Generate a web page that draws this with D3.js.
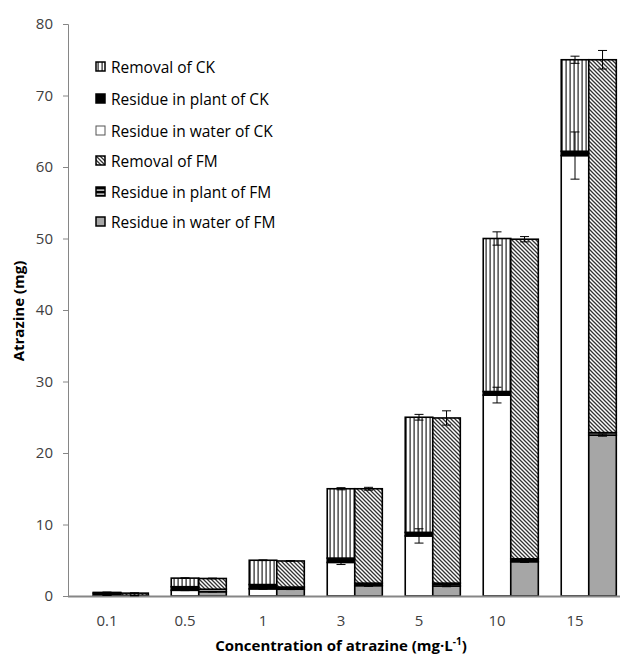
<!DOCTYPE html>
<html><head><meta charset="utf-8">
<script src="https://cdn.jsdelivr.net/npm/d3@7"></script>
<style>body{margin:0;background:#fff}svg{display:block}text{font-family:"Open Sans",Lato,sans-serif}</style>
</head><body>
<script>
const categories = ["0.1","0.5","1","3","5","10","15"];
const yTicks = [0,10,20,30,40,50,60,70,80];
// CK series (mg)
const ckWater   = [0.10, 0.80, 1.00, 4.70, 8.40, 28.10, 61.60];
const ckPlant   = [0.30, 0.50, 0.60, 0.60, 0.50, 0.50, 0.60];
const ckRemoval = [0.10, 1.20, 3.40, 9.70, 16.10, 21.40, 12.80];
const ckTotalErr = [0.05, 0.05, 0.05, 0.15, 0.40, 0.93, 0.50];
const ckWaterErr = [0.02, 0.05, 0.05, 0.30, 1.00, 1.10, 3.30];
// FM series (mg)
const fmWater   = [0.05, 0.60, 0.95, 1.45, 1.40, 4.80, 22.50];
const fmPlant   = [0.05, 0.35, 0.30, 0.35, 0.40, 0.40, 0.35];
const fmRemoval = [0.30, 1.50, 3.65, 13.20, 23.10, 44.70, 52.15];
const fmTotalErr = [0.05, 0.05, 0.05, 0.20, 1.00, 0.37, 1.30];
const fmWaterErr = [0.02, 0.03, 0.05, 0.10, 0.10, 0.10, 0.15];
const legendLabels = ["Removal of CK","Residue in plant of CK","Residue in water of CK","Removal of FM","Residue in plant of FM","Residue in water of FM"];

const W=632,H=655;
const svg=d3.select("body").append("svg").attr("width",W).attr("height",H);
const defs=svg.append("defs");
const pv=defs.append("pattern").attr("id","pv").attr("patternUnits","userSpaceOnUse").attr("width",4).attr("height",4);
pv.append("rect").attr("width",4).attr("height",4).attr("fill","#fff");
pv.append("rect").attr("x",1.5).attr("width",1.2).attr("height",4).attr("fill","#222");
const pd=defs.append("pattern").attr("id","pd").attr("patternUnits","userSpaceOnUse").attr("width",4).attr("height",4);
pd.append("rect").attr("width",4).attr("height",4).attr("fill","#fff");
pd.append("path").attr("d","M-1,-1L5,5M-1,3L1,5M3,-1L5,1").attr("stroke","#333").attr("stroke-width",1.3);
const ph=defs.append("pattern").attr("id","ph").attr("patternUnits","userSpaceOnUse").attr("width",4).attr("height",4);
ph.append("rect").attr("width",4).attr("height",4).attr("fill","#000");
ph.append("rect").attr("y",1.5).attr("width",4).attr("height",1.2).attr("fill","#fff");

const x0=68,x1=614,yTop=24,yBot=596;
const x=d3.scaleBand().domain(categories).range([x0,x1]).paddingInner(0.647).paddingOuter(0.3235);
const y=d3.scaleLinear().domain([0,80]).range([yBot,yTop]);
const bw=x.bandwidth();

const stackKeys=["water","plant","removal"];
function rows(w,p,r){return categories.map((c,i)=>({cat:c,water:w[i],plant:p[i],removal:r[i]}));}
const ckRows=rows(ckWater,ckPlant,ckRemoval), fmRows=rows(fmWater,fmPlant,fmRemoval);
const stack=d3.stack().keys(stackKeys);
const ckFill={water:"#fff",plant:"#000",removal:"url(#pv)"};
const fmFill={water:"#a6a6a6",plant:"url(#ph)",removal:"url(#pd)"};

const gy=svg.append("g").attr("transform",`translate(${x0},0)`)
  .call(d3.axisLeft(y).tickValues(yTicks).tickSize(5).tickPadding(10));
gy.select(".domain").attr("stroke","#868686");
gy.selectAll(".tick line").attr("stroke","#868686");
gy.selectAll(".tick text").attr("font-size",15).attr("fill","#404040").style("font-family",'"Open Sans",sans-serif');

function drawStack(data,fills,offset){
  const series=stack(data);
  series.forEach(s=>{
    svg.append("g").selectAll("rect").data(s).join("rect")
      .attr("x",d=>x(d.data.cat)+offset).attr("width",bw)
      .attr("y",d=>y(d[1])).attr("height",d=>Math.max(0,y(d[0])-y(d[1])))
      .attr("fill",fills[s.key]).attr("stroke","#000").attr("stroke-width",1.6);
  });
}
drawStack(ckRows,ckFill,0);
drawStack(fmRows,fmFill,bw);

svg.append("line").attr("x1",x0).attr("x2",620).attr("y1",yBot+0.5).attr("y2",yBot+0.5).attr("stroke","#868686").attr("stroke-width",2);

function errBars(vals,errs,offset){
  const g=svg.append("g").attr("stroke","#000").attr("stroke-width",1);
  categories.forEach((c,i)=>{
    const cx=x(c)+offset+bw/2, v=vals[i], e=errs[i];
    g.append("line").attr("x1",cx).attr("x2",cx).attr("y1",y(v+e)).attr("y2",y(v-e));
    g.append("line").attr("x1",cx-4.5).attr("x2",cx+4.5).attr("y1",y(v+e)).attr("y2",y(v+e));
    g.append("line").attr("x1",cx-4.5).attr("x2",cx+4.5).attr("y1",y(v-e)).attr("y2",y(v-e));
  });
}
const ckTot=categories.map((c,i)=>ckWater[i]+ckPlant[i]+ckRemoval[i]);
const fmTot=categories.map((c,i)=>fmWater[i]+fmPlant[i]+fmRemoval[i]);
errBars(ckTot,ckTotalErr,0);
errBars(ckWater,ckWaterErr,0);
errBars(fmTot,fmTotalErr,bw);
errBars(fmWater,fmWaterErr,bw);

svg.append("g").selectAll("text").data(categories).join("text")
  .attr("x",d=>x(d)+bw/2).attr("y",626).attr("text-anchor","middle")
  .attr("font-size",15).attr("fill","#404040").text(d=>d);

const xt=svg.append("text").attr("x",341).attr("y",651).attr("text-anchor","middle")
  .attr("font-size",15).attr("font-weight","bold").attr("fill","#000");
xt.append("tspan").text("Concentration of atrazine (mg·L");
xt.append("tspan").attr("font-size",10).attr("dy",-6).text("-1");
xt.append("tspan").attr("dy",6).text(")");
svg.append("text").attr("transform","translate(24,311) rotate(-90)").attr("text-anchor","middle")
  .attr("font-size",15).attr("font-weight","bold").attr("fill","#000").text("Atrazine (mg)");

const legFills=["url(#pv)","#000","#fff","url(#pd)","url(#ph)","#a6a6a6"];
const legY=[67,99,131,161,192,222];
const lg=svg.append("g");
legendLabels.forEach((t,i)=>{
  lg.append("rect").attr("x",96).attr("y",legY[i]-5).attr("width",9).attr("height",9)
    .attr("fill",legFills[i]).attr("stroke",i===2?"#555":"#000").attr("stroke-width",i===2?1:1.5);
  lg.append("text").attr("x",111).attr("y",legY[i]+5.5).attr("font-size",15.5).attr("fill","#000").text(t);
});
</script>
</body></html>
